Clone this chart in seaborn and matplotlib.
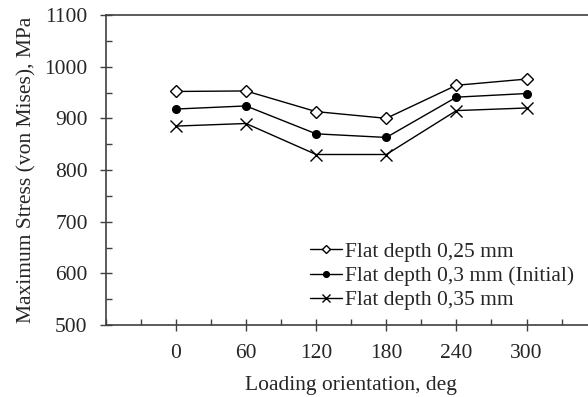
import matplotlib
matplotlib.use("Agg")
import matplotlib.pyplot as plt
from matplotlib.ticker import MultipleLocator
import pandas as pd
import seaborn as sns

orientation = [0, 60, 120, 180, 240, 300]
depth_025 = [952, 953, 913, 900, 964, 976]
depth_030 = [918, 924, 870, 863, 941, 948]
depth_035 = [885, 890, 830, 830, 915, 920]

series = [
    ("Flat depth 0,25 mm", depth_025, "D", "white", 6),
    ("Flat depth 0,3 mm (Initial)", depth_030, "o", "black", 5.5),
    ("Flat depth 0,35 mm", depth_035, "x", "black", 8.5),
]

sns.set_style("ticks")
plt.rcParams["font.family"] = ["Liberation Serif", "DejaVu Serif"]
fs = 15.5

fig = plt.figure(figsize=(5.88, 3.97), dpi=100)
ax = fig.add_axes([105.7 / 588, 72 / 397, 491 / 588, 310 / 397])

for label, values, marker, face, size in series:
    df = pd.DataFrame({"orientation": orientation, "stress": values})
    sns.lineplot(data=df, x="orientation", y="stress", ax=ax, color="black",
                 marker=marker, markersize=size, markerfacecolor=face,
                 markeredgecolor="black", markeredgewidth=1.0, linewidth=1.0,
                 label=label)

ax.set_xlim(-60, 360)
ax.set_ylim(500, 1100)
ax.set_xticks(orientation)
ax.xaxis.set_minor_locator(MultipleLocator(30))
ax.yaxis.set_major_locator(MultipleLocator(100))
ax.yaxis.set_minor_locator(MultipleLocator(50))
ax.tick_params(which="major", direction="inout", length=8, width=1, color="#404040", labelsize=fs)
ax.tick_params(which="minor", direction="in", length=4, width=1, color="#404040")
ax.tick_params(axis="y", which="major", pad=9)
ax.tick_params(axis="x", which="major", pad=10)

for side in ["left", "bottom", "top", "right"]:
    ax.spines[side].set_visible(True)
    ax.spines[side].set_color("#404040")
    ax.spines[side].set_linewidth(1.2)

ax.set_xlabel("Loading orientation, deg", fontsize=fs, labelpad=9)
ax.set_ylabel("Maximum Stress (von Mises), MPa", fontsize=fs, labelpad=6)

ax.legend(loc="center left", bbox_to_anchor=(0.416, 0.158), frameon=False,
          fontsize=fs, handlelength=1.5, handletextpad=0.15, markerscale=0.75,
          labelspacing=0.2, borderpad=0, borderaxespad=0)

fig.savefig("out.png", dpi=100)
